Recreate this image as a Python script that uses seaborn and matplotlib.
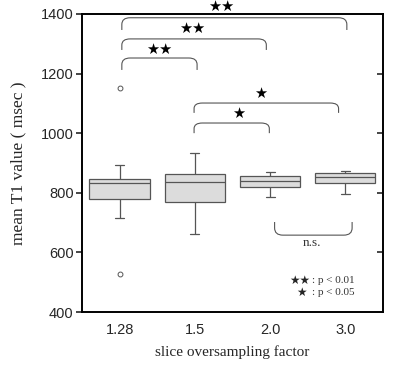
import matplotlib
matplotlib.use('Agg')
import matplotlib.pyplot as plt
from matplotlib.path import Path
from matplotlib.patches import PathPatch
import seaborn as sns
import pandas as pd

# values (T1, msec)
factors = ['1.28', '1.5', '2.0', '3.0']
t1_128 = [528, 714, 778, 800, 832, 840, 846, 893, 1150]
t1_15 = [661, 770, 835, 862, 933]
t1_20 = [787, 818, 839, 856, 869]
t1_30 = [796, 832, 852, 865, 872]

# comparisons: (x1, x2, top, end, label)
pairs = [(0.03, 3.02, 1387, 1346, '★★'),
         (0.03, 1.95, 1316, 1279, '★★'),
         (0.03, 1.03, 1252, 1212, '★★'),
         (0.99, 2.91, 1101, 1068, '★'),
         (0.99, 1.99, 1034, 1000, '★')]
star_pos = [(1.35, 1424), (0.96, 1352), (0.52, 1281), (1.88, 1134), (1.58, 1066)]

df = pd.DataFrame({
    'factor': sum([[f] * len(v) for f, v in zip(factors, [t1_128, t1_15, t1_20, t1_30])], []),
    'T1': t1_128 + t1_15 + t1_20 + t1_30,
})

sns.set_style('ticks')
fig = plt.figure(figsize=(3.94, 3.65), dpi=100)
ax = fig.add_axes([0.208, 0.145, 0.764, 0.817])

sns.boxplot(data=df, x='factor', y='T1', order=factors, ax=ax, width=0.8,
            color='#dcdcdc', linecolor='#555555', linewidth=0.9,
            flierprops=dict(marker='o', markersize=3.5, markerfacecolor='white',
                            markeredgecolor='#555555', markeredgewidth=0.7))

# shrink caps
for ln in ax.lines:
    xd = ln.get_xdata()
    yd = ln.get_ydata()
    if len(xd) == 2 and yd[0] == yd[1] and xd[0] != xd[1]:
        c = (xd[0] + xd[1]) / 2
        w = abs(xd[1] - xd[0])
        if w < 0.5:
            ln.set_xdata([c - 0.06, c + 0.06])


def bracket(x1, x2, top, end, dx=0.11):
    mid = top + (end - top) * 0.55
    verts = [(x1, end), (x1, mid), (x1, top), (x1 + dx, top),
             (x2 - dx, top), (x2, top), (x2, mid), (x2, end)]
    codes = [Path.MOVETO, Path.LINETO, Path.CURVE3, Path.CURVE3,
             Path.LINETO, Path.CURVE3, Path.CURVE3, Path.LINETO]
    ax.add_patch(PathPatch(Path(verts, codes), fill=False, edgecolor='#555555',
                           lw=0.8, clip_on=False))


for (x1, x2, top, end, lab), (sx, sy) in zip(pairs, star_pos):
    bracket(x1, x2, top, end)
    ax.text(sx, sy, lab, ha='center', va='center', fontsize=10.5, color='black',
            family='DejaVu Sans', clip_on=False)

# n.s. bracket (opens upward)
bracket(2.06, 3.09, 658, 702)
ax.text(2.56, 630, 'n.s.', ha='center', va='center', fontsize=9.5,
        family='Liberation Serif', color='#333333')

# significance key
ax.text(2.40, 507, '★★', ha='center', va='center', fontsize=8.5, family='DejaVu Sans')
ax.text(2.42, 466, '★', ha='center', va='center', fontsize=8.5, family='DejaVu Sans')
ax.text(2.56, 507, ': p < 0.01', ha='left', va='center', fontsize=8,
        family='Liberation Serif', color='#333333')
ax.text(2.56, 466, ': p < 0.05', ha='left', va='center', fontsize=8,
        family='Liberation Serif', color='#333333')

ax.set_ylim(400, 1400)
ax.set_xlim(-0.5, 3.5)
ax.set_yticks([400, 600, 800, 1000, 1200, 1400])
ax.set_yticklabels(['400', '600', '800', '1000', '1200', '1400'],
                   family='Liberation Sans', fontsize=10.5)
ax.set_xticks(range(4))
ax.set_xticklabels(factors, family='Liberation Sans', fontsize=10.5)
ax.tick_params(axis='x', length=0, pad=8)
ax.tick_params(axis='y', left=True, right=False, direction='out', length=4, width=1.2, pad=2)

# right-hand ticks point inward
ax2 = ax.twinx()
ax2.set_ylim(400, 1400)
ax2.set_yticks([400, 600, 800, 1000, 1200, 1400])
ax2.tick_params(axis='y', direction='in', length=4, width=1.2, labelright=False)
ax2.grid(False)

ax.set_xlabel('slice oversampling factor', family='Liberation Serif', fontsize=11, labelpad=6)
ax.set_ylabel('mean T1 value ( msec )', family='Liberation Serif', fontsize=12.5, labelpad=10)
for a in (ax, ax2):
    for s in a.spines.values():
        s.set_visible(True)
        s.set_linewidth(1.2)
        s.set_color('black')

fig.savefig('out.png', dpi=100)
